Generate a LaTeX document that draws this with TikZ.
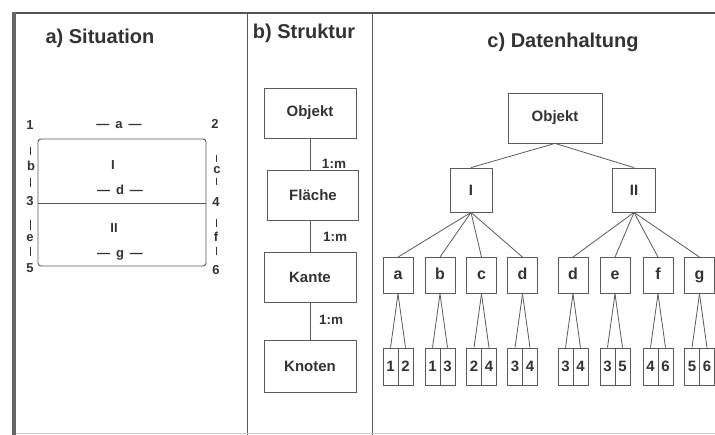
\documentclass[tikz,border=0pt]{standalone}
\usepackage{fontspec}
\setmainfont{Liberation Sans}
\definecolor{ln}{HTML}{5A5A5A}
\definecolor{tx}{HTML}{333333}
\definecolor{frm}{HTML}{555555}
\begin{document}
\begin{tikzpicture}[x=1pt,y=-1pt,
  title/.style={font=\fontsize{20}{24}\selectfont\bfseries, text=tx, inner sep=0pt},
  lbl/.style={font=\fontsize{13}{15}\selectfont\bfseries, text=tx, inner sep=0pt},
  rel/.style={font=\fontsize{13.5}{16}\selectfont\bfseries, text=tx, inner sep=0pt},
  bbox/.style={draw=ln, line width=0.8pt, font=\fontsize{15}{17}\selectfont\bfseries, text=tx, inner sep=0pt, minimum width=92pt, minimum height=50pt},
  mbox/.style={draw=ln, line width=0.8pt, font=\fontsize{15}{17}\selectfont\bfseries, text=tx, inner sep=0pt, minimum width=43pt, minimum height=44pt},
  leaf/.style={draw=ln, line width=0.8pt, font=\fontsize{16}{18}\selectfont\bfseries, text=tx, inner sep=0pt, minimum width=30pt, minimum height=36pt, text height=8.5pt, text depth=0pt},
  half/.style={draw=ln, line width=0.8pt, font=\fontsize{15}{17}\selectfont\bfseries, text=tx, inner sep=0pt, minimum width=15pt, minimum height=37pt},
  conn/.style={draw=ln, line width=0.8pt},
  tick/.style={draw=tx, line width=0.7pt},
  planline/.style={draw=ln, line width=0.9pt}
]
\useasboundingbox (0,0) rectangle (715,435);
\fill[white] (0,0) rectangle (715,435);

% frame
\draw[frm, line width=1.6pt] (13,13) -- (715,13);
\draw[frm!90, line width=3.5pt] (14,12) -- (14,435);
\draw[ln, line width=0.8pt] (247,13) -- (247,435);
\draw[ln, line width=0.8pt] (372,13) -- (372,435);
\draw[black!20, line width=0.8pt] (16,433) -- (715,433);

% titles
\node[title] (ta) at (100,38) {a) Situation};
\node[title] (tb) at (304,33) {b) Struktur};
\node[title] (tc) at (563,42) {c) Datenhaltung};

% ---- a) Situation (plan) ----
\draw[planline, rounded corners=3pt] (38,139) rectangle (206,266);
\draw[planline] (38,203) -- (206,203);
\node[lbl] (p1) at (30,125) {1};
\node[lbl] (p2) at (215,124) {2};
\node[lbl] (p3) at (30,201) {3};
\node[lbl] (p4) at (216,202) {4};
\node[lbl] (p5) at (30,268) {5};
\node[lbl] (p6) at (216,270) {6};
\node[lbl] (ea) at (119,125) {—\hspace{6pt}a\hspace{6pt}—};
\node[lbl] (ed) at (120,190) {—\hspace{6pt}d\hspace{6pt}—};
\node[lbl] (eg) at (120,255) {—\hspace{6pt}g\hspace{6pt}—};
\node[lbl] (fI) at (113,165) {I};
\node[lbl] (fII) at (114,228) {II};
\node[lbl] (eb) at (31,166) {b};
\draw[tick] (30,147) -- (30,155);
\draw[tick] (30,178) -- (30,187);
\node[lbl] (ec) at (217,170.5) {c};
\draw[tick] (216,155) -- (216,162);
\draw[tick] (216,178) -- (216,185);
\node[lbl] (ee) at (30,238) {e};
\draw[tick] (30,220) -- (30,230);
\draw[tick] (30,247) -- (30,256);
\node[lbl] (ef) at (216,237) {f};
\draw[tick] (216,219) -- (216,227);
\draw[tick] (216,247) -- (216,255);

% ---- b) Struktur ----
\node[bbox] (sObj) at (310,113) {Objekt};
\node[bbox, minimum width=91pt] (sFl) at (313,195) {Fläche};
\node[bbox] (sKa) at (310,277) {Kante};
\node[bbox, minimum height=52pt] (sKn) at (310,366) {Knoten};
\draw[conn] (sObj.south) -- (sObj.south |- sFl.north);
\draw[conn] (sFl.south -| sKa.north) -- (sKa.north);
\draw[conn] (sKa.south) -- (sKn.north);
\node[rel] (r1) at (334,164) {1:m};
\node[rel] (r2) at (335,237) {1:m};
\node[rel] (r3) at (331,320) {1:m};

% ---- c) Datenhaltung ----
\node[bbox, minimum width=94pt] (cObj) at (555,118) {Objekt};
\node[mbox, minimum width=42pt] (cI) at (471,190) {I};
\node[mbox] (cII) at (634,190) {II};
\draw[conn] (cObj.south) -- (cI.north);
\draw[conn] (cObj.south) -- (cII.north);

\foreach \n/\x/\t/\p/\q in {la/398/a/1/2, lb/440/b/1/3, lc/481.5/c/2/4, ld/522.5/d/3/4,
                             le/573/d/3/4, lf/615/e/3/5, lg/658/f/4/6, lh/699.5/g/5/6}{
  \node[leaf] (\n) at (\x,275.5) {\t};
  \node[half] (\n L) at (\x-7.5,366.5) {\p};
  \node[half] (\n R) at (\x+7.5,366.5) {\q};
  \draw[conn] (\n.south) -- (\n L.north);
  \draw[conn] (\n.south) -- (\n R.north);
}
\foreach \n in {la,lb,lc,ld}{ \draw[conn] (cI.south) -- (\n.north); }
\foreach \n in {le,lf,lg,lh}{ \draw[conn] (cII.south) -- (\n.north); }
\end{tikzpicture}
\end{document}
